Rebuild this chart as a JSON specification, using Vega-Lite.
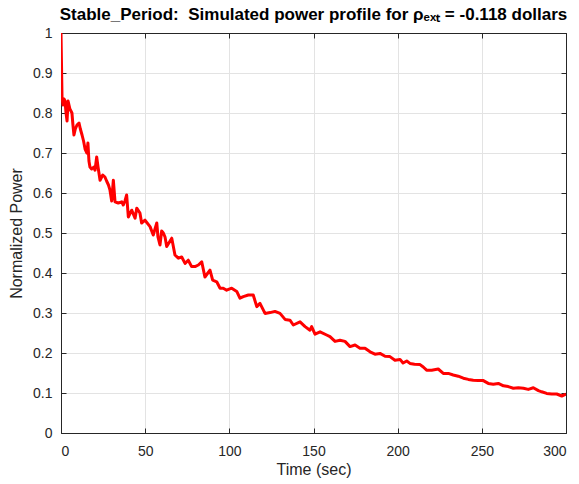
{
  "$schema": "https://vega.github.io/schema/vega-lite/v6.json",
  "width": 505,
  "height": 400,
  "autosize": {"type": "none"},
  "padding": {"left": 61, "top": 33, "right": 13, "bottom": 51},
  "background": "white",
  "title": {
    "text": "Stable_Period:\u00a0 Simulated power profile for ρₑₓₜ = -0.118 dollars",
    "fontSize": 17,
    "fontWeight": "bold",
    "font": "Liberation Sans",
    "color": "#000000",
    "anchor": "middle",
    "offset": 2
  },
  "config": {
    "view": {"stroke": "#262626", "strokeWidth": 1},
    "axis": {
      "labelFont": "Liberation Sans",
      "titleFont": "Liberation Sans",
      "labelFontSize": 14,
      "titleFontSize": 16,
      "titleFontWeight": "normal",
      "labelColor": "#262626",
      "titleColor": "#262626",
      "domainColor": "#262626",
      "tickColor": "#262626",
      "gridColor": "#e3e3e3",
      "gridWidth": 1,
      "tickSize": -5,
      "labelPadding": 14
    }
  },
  "data": {
    "values": [
      {"t": 0, "v": 1.0}, {"t": 0.3, "v": 0.92}, {"t": 0.6, "v": 0.84}, {"t": 1.2, "v": 0.82},
      {"t": 1.8, "v": 0.835}, {"t": 2.4, "v": 0.83}, {"t": 3.0, "v": 0.8}, {"t": 3.6, "v": 0.78},
      {"t": 4.2, "v": 0.83}, {"t": 5.3, "v": 0.81}, {"t": 6.5, "v": 0.8}, {"t": 7.1, "v": 0.77},
      {"t": 7.7, "v": 0.745}, {"t": 8.5, "v": 0.76}, {"t": 9.5, "v": 0.77}, {"t": 10.7, "v": 0.775},
      {"t": 11.5, "v": 0.76}, {"t": 12.5, "v": 0.745}, {"t": 13.4, "v": 0.73}, {"t": 14.3, "v": 0.71},
      {"t": 15.4, "v": 0.7}, {"t": 16.0, "v": 0.725}, {"t": 16.6, "v": 0.68}, {"t": 17.2, "v": 0.665},
      {"t": 18.2, "v": 0.66}, {"t": 19.5, "v": 0.665}, {"t": 20.2, "v": 0.657}, {"t": 21.2, "v": 0.69},
      {"t": 22.0, "v": 0.665}, {"t": 23.2, "v": 0.632}, {"t": 24.8, "v": 0.645}, {"t": 26.1, "v": 0.64},
      {"t": 27.1, "v": 0.63}, {"t": 28.2, "v": 0.62}, {"t": 29.1, "v": 0.607}, {"t": 30.1, "v": 0.58},
      {"t": 31.1, "v": 0.632}, {"t": 32.1, "v": 0.578}, {"t": 34.0, "v": 0.575}, {"t": 36.1, "v": 0.578},
      {"t": 37.0, "v": 0.57}, {"t": 38.0, "v": 0.58}, {"t": 39.0, "v": 0.595}, {"t": 40.0, "v": 0.54},
      {"t": 42.0, "v": 0.557}, {"t": 44.0, "v": 0.537}, {"t": 45.0, "v": 0.562}, {"t": 46.9, "v": 0.55},
      {"t": 47.9, "v": 0.525}, {"t": 49.9, "v": 0.532}, {"t": 52.9, "v": 0.516}, {"t": 54.8, "v": 0.495},
      {"t": 56.9, "v": 0.525}, {"t": 57.6, "v": 0.49}, {"t": 58.8, "v": 0.47}, {"t": 59.8, "v": 0.505},
      {"t": 60.8, "v": 0.5}, {"t": 61.8, "v": 0.49}, {"t": 62.8, "v": 0.466}, {"t": 64.8, "v": 0.48},
      {"t": 65.8, "v": 0.487}, {"t": 67.7, "v": 0.445}, {"t": 69.7, "v": 0.437}, {"t": 71.7, "v": 0.44},
      {"t": 73.7, "v": 0.424}, {"t": 75.6, "v": 0.432}, {"t": 77.6, "v": 0.416}, {"t": 79.6, "v": 0.416},
      {"t": 81.6, "v": 0.42}, {"t": 83.6, "v": 0.428}, {"t": 85.5, "v": 0.39}, {"t": 88.5, "v": 0.407},
      {"t": 90.1, "v": 0.382}, {"t": 92.5, "v": 0.378}, {"t": 94.5, "v": 0.362}, {"t": 96.4, "v": 0.362},
      {"t": 98.4, "v": 0.357}, {"t": 101.4, "v": 0.362}, {"t": 104.4, "v": 0.354}, {"t": 106.3, "v": 0.337},
      {"t": 108.3, "v": 0.341}, {"t": 111.3, "v": 0.345}, {"t": 114.2, "v": 0.345}, {"t": 116.3, "v": 0.316},
      {"t": 118.2, "v": 0.324}, {"t": 121.2, "v": 0.299}, {"t": 124.2, "v": 0.301}, {"t": 127.1, "v": 0.304},
      {"t": 130.1, "v": 0.299}, {"t": 133.1, "v": 0.284}, {"t": 136.0, "v": 0.282}, {"t": 138.0, "v": 0.27},
      {"t": 142.0, "v": 0.278}, {"t": 145.0, "v": 0.266}, {"t": 147.9, "v": 0.257}, {"t": 148.9, "v": 0.266},
      {"t": 150.9, "v": 0.247}, {"t": 153.9, "v": 0.253}, {"t": 157.8, "v": 0.245}, {"t": 159.8, "v": 0.241},
      {"t": 162.8, "v": 0.229}, {"t": 165.7, "v": 0.232}, {"t": 168.7, "v": 0.229}, {"t": 171.7, "v": 0.216},
      {"t": 174.7, "v": 0.22}, {"t": 177.6, "v": 0.212}, {"t": 180.6, "v": 0.212}, {"t": 183.6, "v": 0.203},
      {"t": 186.5, "v": 0.197}, {"t": 189.5, "v": 0.199}, {"t": 192.5, "v": 0.192}, {"t": 195.4, "v": 0.191},
      {"t": 198.4, "v": 0.182}, {"t": 201.4, "v": 0.184}, {"t": 203.2, "v": 0.175}, {"t": 205.4, "v": 0.18},
      {"t": 207.3, "v": 0.174}, {"t": 210.0, "v": 0.172}, {"t": 213.3, "v": 0.171}, {"t": 215.2, "v": 0.165},
      {"t": 217.2, "v": 0.157}, {"t": 220.2, "v": 0.157}, {"t": 224.1, "v": 0.16}, {"t": 227.1, "v": 0.149},
      {"t": 230.1, "v": 0.149}, {"t": 233.0, "v": 0.145}, {"t": 236.0, "v": 0.142}, {"t": 239.0, "v": 0.137},
      {"t": 242.0, "v": 0.134}, {"t": 244.9, "v": 0.132}, {"t": 247.9, "v": 0.131}, {"t": 250.9, "v": 0.131},
      {"t": 253.8, "v": 0.124}, {"t": 256.8, "v": 0.122}, {"t": 259.8, "v": 0.124}, {"t": 262.8, "v": 0.118},
      {"t": 265.7, "v": 0.116}, {"t": 268.7, "v": 0.112}, {"t": 271.7, "v": 0.113}, {"t": 274.7, "v": 0.112},
      {"t": 277.6, "v": 0.109}, {"t": 280.6, "v": 0.113}, {"t": 283.6, "v": 0.106}, {"t": 285.6, "v": 0.103},
      {"t": 288.5, "v": 0.099}, {"t": 291.5, "v": 0.0975}, {"t": 294.5, "v": 0.0975}, {"t": 297.5, "v": 0.0925},
      {"t": 300.0, "v": 0.097}
    ]
  },
  "layer": [
    {
      "mark": {"type": "line", "color": "#ff0000", "strokeWidth": 3, "strokeJoin": "round", "clip": true},
      "encoding": {
        "x": {
          "field": "t", "type": "quantitative",
          "scale": {"domain": [0, 300], "nice": false, "zero": false},
          "axis": {"orient": "bottom", "values": [0, 50, 100, 150, 200, 250, 300], "title": "Time (sec)", "grid": true, "labelPadding": 16, "titlePadding": 3}
        },
        "y": {
          "field": "v", "type": "quantitative",
          "scale": {"domain": [0, 1], "nice": false},
          "axis": {"orient": "left", "values": [0, 0.1, 0.2, 0.3, 0.4, 0.5, 0.6, 0.7, 0.8, 0.9, 1], "format": ".1~f", "title": "Normalized Power", "grid": true, "titlePadding": 8}
        }
      }
    },
    {
      "mark": {"type": "line", "opacity": 0},
      "encoding": {
        "x": {
          "field": "t", "type": "quantitative",
          "axis": {"orient": "top", "values": [0, 50, 100, 150, 200, 250, 300], "labels": false, "title": null, "grid": false}
        },
        "y": {
          "field": "v", "type": "quantitative",
          "axis": {"orient": "right", "values": [0, 0.1, 0.2, 0.3, 0.4, 0.5, 0.6, 0.7, 0.8, 0.9, 1], "labels": false, "title": null, "grid": false}
        }
      }
    }
  ],
  "resolve": {"axis": {"x": "independent", "y": "independent"}}
}
